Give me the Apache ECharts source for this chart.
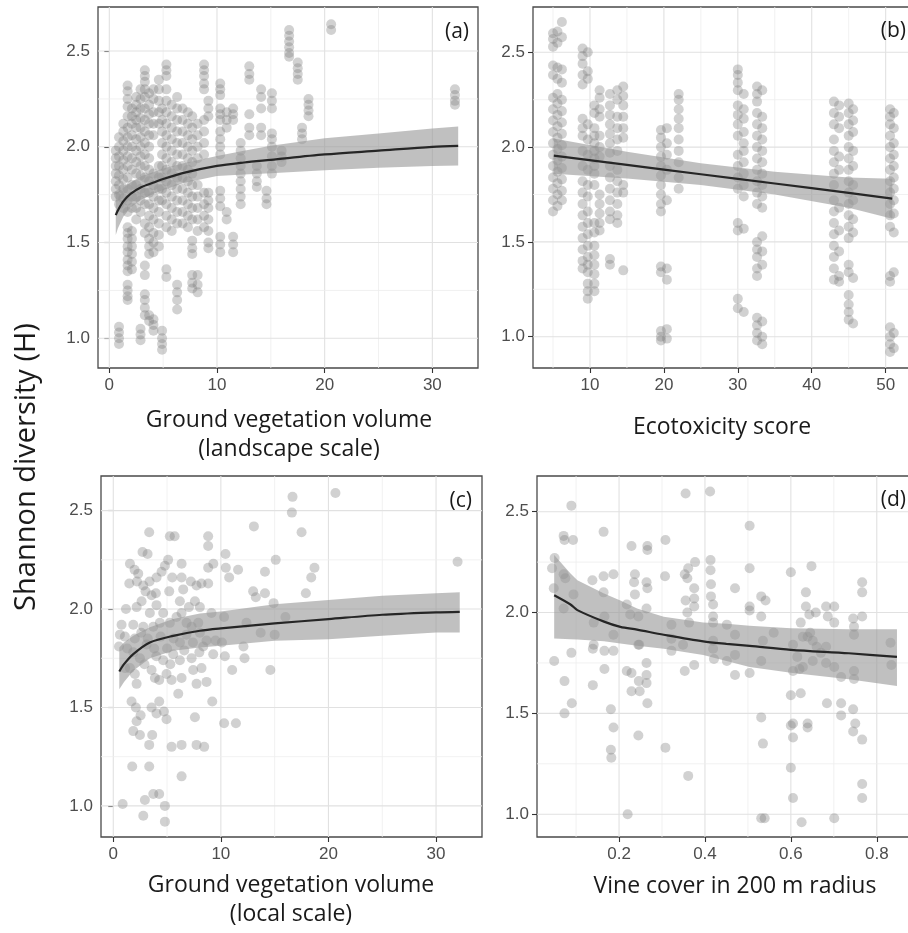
<!DOCTYPE html>
<html>
<head>
<meta charset="utf-8">
<script src="https://cdn.jsdelivr.net/npm/echarts@6/dist/echarts.min.js"></script>
<style>
  html, body { margin: 0; padding: 0; background: #ffffff; }
  #chart { width: 908px; height: 933px; }
</style>
</head>
<body>
<div id="chart"></div>
<script>
// ---------- (a) ground vegetation volume, landscape scale: columns [x, [H values]] ----------
const landscapeCols = [
  [0.6, [1.98, 1.94, 1.9, 1.86, 1.82, 1.78, 1.74]],
  [0.9, [2.05, 2.0, 1.95, 1.9, 1.85, 1.8, 1.75, 1.7, 1.06, 1.03, 1.0, 0.97]],
  [1.3, [2.12, 2.08, 2.03, 1.98, 1.93, 1.88, 1.83, 1.78, 1.73, 1.68]],
  [1.7, [2.32, 2.29, 2.25, 2.21, 2.16, 2.1, 2.05, 2.0, 1.95, 1.9, 1.84, 1.78, 1.72, 1.66, 1.58, 1.55, 1.52, 1.48, 1.45, 1.41, 1.38, 1.35, 1.28, 1.25, 1.22, 1.2]],
  [2.1, [2.2, 2.16, 2.12, 2.06, 2.0, 1.94, 1.88, 1.8, 1.74, 1.68, 1.56, 1.52, 1.48, 1.44, 1.4, 1.36]],
  [2.5, [2.26, 2.22, 2.18, 2.14, 2.1, 2.04, 1.98, 1.92, 1.86, 1.8, 1.74, 1.68, 1.62]],
  [2.9, [2.3, 2.25, 2.2, 2.15, 2.1, 2.05, 2.0, 1.95, 1.9, 1.85, 1.78, 1.72, 1.66, 1.05, 1.02, 0.99]],
  [3.3, [2.4, 2.37, 2.34, 2.3, 2.26, 2.2, 2.14, 2.08, 2.02, 1.96, 1.9, 1.84, 1.76, 1.7, 1.6, 1.55, 1.38, 1.33, 1.23, 1.2, 1.16, 1.12]],
  [3.7, [2.28, 2.22, 2.17, 2.12, 2.06, 2.0, 1.94, 1.88, 1.82, 1.76, 1.7, 1.64, 1.58, 1.52, 1.48, 1.44, 1.12, 1.09]],
  [4.1, [2.3, 2.25, 2.18, 2.12, 2.06, 1.86, 1.8, 1.74, 1.68, 1.62, 1.55, 1.5, 1.45, 1.1, 1.07, 1.04]],
  [4.6, [2.35, 2.3, 2.24, 2.18, 2.12, 1.9, 1.84, 1.78, 1.72, 1.66, 1.6, 1.54, 1.48]],
  [4.9, [2.2, 2.14, 2.08, 2.02, 1.96, 1.9, 1.84, 1.78, 1.72, 1.04, 1.0, 0.97, 0.94]],
  [5.3, [2.43, 2.4, 2.37, 2.3, 2.24, 2.18, 2.12, 2.06, 2.0, 1.94, 1.88, 1.82, 1.76, 1.7, 1.64, 1.58, 1.36, 1.32]],
  [5.8, [2.22, 2.16, 2.1, 2.04, 1.98, 1.92, 1.86, 1.8, 1.74, 1.68, 1.62, 1.56]],
  [6.3, [2.26, 2.2, 2.14, 2.08, 2.02, 1.96, 1.9, 1.84, 1.78, 1.72, 1.66, 1.6, 1.28, 1.24, 1.2, 1.15]],
  [6.8, [2.2, 2.14, 2.08, 2.02, 1.96, 1.9, 1.84, 1.78, 1.72, 1.66, 1.6]],
  [7.3, [2.18, 2.12, 2.06, 2.0, 1.94, 1.88, 1.82, 1.76, 1.7, 1.64, 1.58]],
  [7.7, [2.16, 2.1, 2.04, 1.98, 1.92, 1.86, 1.8, 1.74, 1.68, 1.62, 1.51, 1.47, 1.44, 1.33, 1.29, 1.26]],
  [8.2, [2.12, 2.06, 2.0, 1.94, 1.8, 1.74, 1.68, 1.62, 1.56, 1.33, 1.28, 1.24]],
  [8.8, [2.43, 2.4, 2.37, 2.33, 2.3, 2.14, 2.08, 2.02, 1.96, 1.76, 1.7, 1.64, 1.58]],
  [9.2, [2.24, 2.2, 2.16, 1.76, 1.72, 1.68, 1.62, 1.56, 1.5, 1.47]],
  [10.3, [2.33, 2.3, 2.27, 2.2, 2.17, 2.14, 2.08, 2.04, 2.0, 1.96, 1.77, 1.73, 1.69, 1.53, 1.49, 1.45]],
  [10.9, [2.18, 2.14, 2.1, 1.66, 1.62]],
  [11.5, [2.2, 2.17, 2.14, 1.53, 1.49, 1.45]],
  [12.2, [2.02, 1.98, 1.94, 1.9, 1.86, 1.82, 1.78, 1.74, 1.7]],
  [13.0, [2.42, 2.38, 2.35, 2.17, 2.1, 2.06]],
  [13.7, [1.9, 1.86, 1.82, 1.79]],
  [14.1, [2.3, 2.26, 2.2, 2.1, 2.06]],
  [14.6, [1.77, 1.73, 1.7]],
  [15.1, [2.28, 2.24, 2.2, 2.07, 2.04, 2.0, 1.95, 1.9, 1.86]],
  [16.0, [1.98, 1.95, 1.92]],
  [16.7, [2.61, 2.58, 2.55, 2.52, 2.49, 2.47]],
  [17.5, [2.44, 2.41, 2.38, 2.35]],
  [17.9, [2.1, 2.07, 2.04]],
  [18.5, [2.25, 2.22, 2.19, 2.16]],
  [20.6, [2.64, 2.61]],
  [32.1, [2.3, 2.27, 2.24, 2.22]]
];
const landscapeFitX = [0.6, 0.8, 1.3, 2.0, 3.0, 4.2, 5.0, 7.0, 10, 12.5, 15, 20, 25, 30, 32.4];
const landscapeFit  = [1.643, 1.668, 1.715, 1.755, 1.79, 1.815, 1.832, 1.865, 1.90, 1.918, 1.932, 1.96, 1.98, 2.0, 2.005];
const landscapeLo   = [1.54, 1.575, 1.635, 1.685, 1.725, 1.757, 1.775, 1.812, 1.848, 1.856, 1.862, 1.877, 1.89, 1.90, 1.903];
const landscapeHi   = [1.76, 1.765, 1.785, 1.815, 1.848, 1.87, 1.887, 1.915, 1.952, 1.98, 2.005, 2.045, 2.07, 2.095, 2.106];

// ---------- (b) ecotoxicity score: columns [x, [H values]] ----------
const ecotoxCols = [
  [5.0, [2.6, 2.57, 2.53, 2.43, 2.38, 2.26, 2.2, 2.14, 2.08, 2.02, 1.96, 1.9, 1.84, 1.78, 1.72, 1.66]],
  [5.6, [2.61, 2.55, 2.42, 2.36, 2.28, 2.23, 2.17, 2.11, 2.05, 1.99, 1.93, 1.87, 1.81, 1.75, 1.69]],
  [6.2, [2.66, 2.58, 2.41, 2.34, 2.25, 2.19, 2.13, 2.07, 2.01, 1.95, 1.89, 1.83, 1.77, 1.72]],
  [9.0, [2.52, 2.48, 2.44, 2.38, 2.33, 2.15, 2.1, 2.06, 1.98, 1.9, 1.82, 1.76, 1.7, 1.64, 1.58, 1.52, 1.46, 1.4, 1.36]],
  [9.7, [2.5, 2.4, 2.36, 2.12, 2.04, 1.96, 1.88, 1.8, 1.74, 1.66, 1.6, 1.54, 1.48, 1.42, 1.38, 1.34, 1.28, 1.24, 1.2]],
  [10.6, [2.22, 2.18, 2.1, 2.06, 2.02, 1.98, 1.94, 1.9, 1.86, 1.8, 1.6, 1.55, 1.48, 1.43, 1.38, 1.33, 1.28, 1.24]],
  [11.3, [2.3, 2.26, 2.2, 2.16, 2.06, 2.0, 1.95, 1.75, 1.7, 1.65, 1.6, 1.56]],
  [12.7, [2.28, 2.22, 2.17, 2.12, 2.07, 2.02, 1.97, 1.9, 1.84, 1.78, 1.72, 1.66, 1.62, 1.41, 1.38]],
  [13.7, [2.3, 2.25, 2.16, 2.1, 2.04, 1.98, 1.88, 1.82, 1.76, 1.7, 1.64, 1.6]],
  [14.5, [2.32, 2.27, 2.22, 2.16, 2.1, 2.05, 1.8, 1.76, 1.35]],
  [19.6, [2.09, 2.05, 2.0, 1.95, 1.9, 1.85, 1.8, 1.75, 1.7, 1.66, 1.37, 1.34, 1.03, 1.0, 0.98]],
  [20.4, [2.1, 2.02, 1.96, 1.88, 1.72, 1.36, 1.3, 1.04, 0.99]],
  [22.0, [2.28, 2.25, 2.2, 2.15, 2.1, 2.04, 1.98, 1.92, 1.84, 1.78]],
  [30.0, [2.41, 2.38, 2.34, 2.3, 2.22, 2.17, 2.12, 2.06, 1.96, 1.9, 1.84, 1.78, 1.6, 1.56, 1.2, 1.15]],
  [30.8, [2.28, 2.2, 2.15, 2.08, 2.02, 1.98, 1.92, 1.86, 1.8, 1.74, 1.57, 1.13]],
  [32.6, [2.32, 2.28, 2.24, 2.18, 2.12, 2.06, 2.0, 1.94, 1.88, 1.82, 1.76, 1.7, 1.5, 1.46, 1.42, 1.36, 1.32, 1.1, 1.06, 1.02, 0.98]],
  [33.3, [2.3, 2.16, 2.1, 2.04, 1.98, 1.92, 1.86, 1.8, 1.74, 1.68, 1.53, 1.45, 1.38, 1.08, 1.0, 0.96]],
  [43.0, [2.24, 2.18, 2.12, 2.04, 1.98, 1.92, 1.86, 1.8, 1.72, 1.66, 1.6, 1.54, 1.48, 1.42, 1.36, 1.3]],
  [43.7, [2.22, 2.16, 2.1, 1.95, 1.88, 1.68, 1.56, 1.45, 1.32, 1.29]],
  [45.0, [2.23, 2.18, 2.12, 2.06, 2.0, 1.94, 1.88, 1.82, 1.76, 1.7, 1.64, 1.58, 1.52, 1.38, 1.34, 1.22, 1.17, 1.13, 1.09]],
  [45.6, [2.2, 2.14, 2.08, 1.98, 1.9, 1.8, 1.72, 1.62, 1.55, 1.31, 1.07]],
  [50.6, [2.2, 2.16, 2.12, 2.06, 2.0, 1.94, 1.88, 1.82, 1.76, 1.7, 1.64, 1.58, 1.32, 1.29, 1.05, 1.0, 0.96, 0.92]],
  [51.1, [2.18, 2.1, 2.02, 1.96, 1.9, 1.84, 1.78, 1.72, 1.65, 1.55, 1.34, 1.02, 0.94]]
];
const ecotoxFitX = [5.1, 15, 25, 35, 45, 50.9];
const ecotoxFit  = [1.955, 1.906, 1.857, 1.808, 1.759, 1.728];
const ecotoxLo   = [1.86, 1.835, 1.80, 1.75, 1.68, 1.622];
const ecotoxHi   = [2.045, 1.975, 1.915, 1.87, 1.84, 1.833];

// ---------- (c) ground vegetation volume, local scale: [x, H] ----------
const localPts = [
  [0.87,1.01],[16.66,2.57],[16.6,2.49],[17.5,2.39],[20.65,2.59],[13.07,2.42],[32.0,2.24],[15.1,2.25],[14.1,2.19],
  [18.7,2.21],[18.4,2.16],[17.9,2.08],[13.0,2.09],[13.25,2.06],[14.1,2.08],[14.9,2.03],[10.43,2.28],[10.46,2.21],
  [10.77,2.16],[11.6,2.2],[8.82,2.37],[8.82,2.32],[8.82,2.21],[9.3,2.23],[8.82,2.13],[5.26,2.37],[5.7,2.37],
  [3.34,2.39],[2.72,2.29],[3.19,2.28],[1.55,2.23],[1.98,2.2],[2.32,2.18],[1.49,2.13],[2.2,2.14],[3.37,2.14],
  [2.79,2.12],[4.02,2.16],[4.49,2.19],[4.8,2.22],[5.1,2.25],[6.35,2.23],[5.48,2.16],[6.35,2.16],[7.21,2.14],
  [7.74,2.12],[8.2,2.13],[5.2,2.09],[6.5,2.1],[7.59,2.04],[8.05,2.01],[7.03,2.01],[6.19,2.04],[3.96,2.08],
  [3.56,2.07],[3.0,2.09],[2.63,2.04],[2.17,2.01],[1.18,2.0],[0.77,1.92],[1.86,1.92],[1.08,1.86],[0.53,1.81],
  [0.62,1.87],[4.02,2.02],[4.64,1.98],[3.4,1.98],[2.79,1.91],[3.72,1.91],[4.33,1.93],[5.26,1.93],[5.88,1.96],
  [6.35,1.98],[6.81,1.93],[7.28,1.91],[8.05,1.88],[8.67,1.84],[9.29,1.77],[9.13,1.98],[10.3,1.96],[10.37,1.76],
  [11.05,1.69],[12.2,1.75],[12.1,1.81],[12.38,1.93],[13.7,1.88],[15.0,1.87],[14.6,1.69],[16.0,1.96],[1.86,1.78],
  [1.55,1.7],[2.01,1.67],[2.17,1.62],[2.48,1.75],[3.1,1.82],[3.56,1.69],[3.87,1.65],[4.27,1.64],[4.95,1.67],
  [5.42,1.64],[4.64,1.74],[5.57,1.77],[6.19,1.74],[6.35,1.65],[7.28,1.75],[7.43,1.69],[7.74,1.62],[8.2,1.7],
  [8.67,1.63],[8.36,1.81],[6.04,1.57],[9.2,1.53],[1.7,1.53],[2.1,1.5],[2.17,1.43],[2.54,1.46],[1.86,1.38],
  [2.48,1.36],[3.56,1.5],[4.02,1.47],[4.27,1.53],[4.71,1.48],[4.95,1.44],[3.62,1.36],[3.34,1.31],[5.42,1.3],
  [6.35,1.31],[7.74,1.31],[8.45,1.3],[7.59,1.45],[10.3,1.42],[11.4,1.42],[1.76,1.2],[3.34,1.2],[6.35,1.15],
  [2.94,1.03],[3.72,1.06],[4.27,1.06],[4.8,1.0],[2.79,0.95],[4.8,0.92],
  [1.3,1.8],[2.0,1.85],[2.6,1.88],[3.2,1.85],[3.8,1.8],[4.4,1.86],[5.0,1.8],[5.6,1.85],[6.2,1.83],[6.8,1.87],
  [7.4,1.83],[8.0,1.78],[4.0,1.76],[5.3,1.72],[2.9,1.72],[1.1,1.7],[6.6,1.79],[7.9,1.93],[9.5,1.84],[10.1,1.83]
];
const localFitX = [0.56, 1.0, 1.86, 3.4, 5.57, 8.05, 10, 15, 20, 25, 30, 32.2];
const localFit  = [1.683, 1.72, 1.771, 1.83, 1.864, 1.89, 1.902, 1.927, 1.949, 1.971, 1.983, 1.986];
const localLo   = [1.593, 1.63, 1.686, 1.75, 1.788, 1.805, 1.813, 1.839, 1.847, 1.864, 1.881, 1.881];
const localHi   = [1.805, 1.83, 1.864, 1.907, 1.949, 1.978, 1.988, 2.025, 2.046, 2.068, 2.08, 2.085];

// ---------- (d) vine cover in 200 m radius: [x, H] ----------
const vinePts = [
  [0.049,1.76],[0.048,2.12],[0.044,2.22],[0.05,2.27],[0.071,2.38],[0.073,2.36],[0.093,2.36],[0.089,2.53],[0.071,2.19],
  [0.075,2.17],[0.094,2.09],[0.073,1.66],[0.073,1.5],[0.09,1.55],[0.089,1.8],[0.071,2.02],[0.164,2.4],[0.187,2.19],
  [0.164,2.18],[0.164,2.1],[0.138,2.16],[0.141,1.95],[0.141,1.84],[0.139,1.82],[0.139,1.64],[0.166,1.81],[0.166,1.72],
  [0.187,1.81],[0.166,1.98],[0.187,1.89],[0.181,1.52],[0.187,1.43],[0.181,1.32],[0.182,1.28],[0.229,2.33],[0.237,2.19],
  [0.235,2.15],[0.237,2.09],[0.218,2.04],[0.226,1.99],[0.245,1.98],[0.218,1.71],[0.229,1.7],[0.229,1.61],[0.246,1.66],
  [0.248,1.61],[0.264,1.75],[0.264,1.69],[0.264,1.65],[0.266,1.55],[0.266,2.33],[0.266,2.31],[0.264,2.15],[0.266,2.12],
  [0.264,2.02],[0.245,1.39],[0.22,1.0],[0.245,1.84],[0.247,1.84],[0.308,2.36],[0.307,2.18],[0.308,1.33],[0.322,1.94],
  [0.322,1.87],[0.322,1.81],[0.355,2.59],[0.412,2.6],[0.353,2.19],[0.361,2.22],[0.377,2.25],[0.359,2.17],[0.375,2.12],
  [0.375,2.07],[0.375,2.03],[0.355,2.06],[0.359,2.0],[0.363,1.95],[0.349,1.84],[0.353,1.71],[0.375,1.74],[0.361,1.19],
  [0.413,2.26],[0.413,2.21],[0.414,2.14],[0.414,2.08],[0.419,2.04],[0.419,1.98],[0.419,1.95],[0.419,1.86],[0.419,1.82],
  [0.421,1.77],[0.451,1.94],[0.47,2.12],[0.47,1.89],[0.47,1.79],[0.451,1.76],[0.47,1.69],[0.504,2.43],[0.504,2.22],
  [0.504,2.03],[0.504,2.01],[0.504,1.7],[0.531,2.08],[0.541,2.06],[0.531,1.98],[0.535,1.86],[0.531,1.76],[0.531,1.48],
  [0.535,1.35],[0.531,0.98],[0.539,0.98],[0.6,2.2],[0.648,2.23],[0.635,2.1],[0.635,2.03],[0.623,1.95],[0.643,1.99],
  [0.658,2.0],[0.605,1.84],[0.628,1.88],[0.639,1.88],[0.605,1.71],[0.628,1.73],[0.651,1.76],[0.651,1.86],[0.682,2.03],
  [0.701,2.03],[0.686,1.98],[0.701,1.95],[0.682,1.83],[0.682,1.75],[0.701,1.73],[0.717,1.68],[0.745,1.97],[0.747,1.93],
  [0.766,2.15],[0.766,2.1],[0.766,1.98],[0.747,1.89],[0.747,1.71],[0.747,1.67],[0.832,1.85],[0.834,1.74],[0.6,1.59],
  [0.623,1.6],[0.6,1.44],[0.605,1.45],[0.605,1.38],[0.639,1.45],[0.639,1.43],[0.684,1.55],[0.717,1.55],[0.717,1.49],
  [0.745,1.52],[0.75,1.45],[0.745,1.41],[0.766,1.37],[0.6,1.23],[0.605,1.08],[0.766,1.15],[0.766,1.08],[0.625,0.96],
  [0.701,0.98],[0.615,1.78],[0.66,1.83],[0.67,1.8],[0.645,1.9],[0.62,1.72],[0.56,1.9]
];
const vineFitX = [0.049, 0.087, 0.103, 0.165, 0.203, 0.242, 0.304, 0.396, 0.45, 0.504, 0.6, 0.735, 0.847];
const vineFit  = [2.086, 2.04, 2.012, 1.955, 1.929, 1.915, 1.89, 1.857, 1.845, 1.835, 1.815, 1.798, 1.78];
const vineLo   = [1.871, 1.868, 1.866, 1.857, 1.846, 1.835, 1.821, 1.789, 1.76, 1.73, 1.702, 1.669, 1.636];
const vineHi   = [2.285, 2.193, 2.16, 2.094, 2.06, 2.02, 1.979, 1.95, 1.945, 1.934, 1.922, 1.917, 1.917];

// ---------- axis ticks ----------
const yTicks = [1.0, 1.5, 2.0, 2.5];
const yMinor = [1.25, 1.75, 2.25];
const landscapeTicks = [0, 10, 20, 30];
const landscapeMinor = [5, 15, 25];
const ecotoxTicks = [10, 20, 30, 40, 50];
const ecotoxMinor = [5, 15, 25, 35, 45];
const localTicks = [0, 10, 20, 30];
const localMinor = [5, 15, 25];
const vineTicks = [0.2, 0.4, 0.6, 0.8];
const vineMinor = [0.1, 0.3, 0.5, 0.7];

// ---------- panel layout ----------
const panels = [
  { grid: { left: 98, top: 7, width: 380, height: 361 }, x: [-1.05, 34.24], y: [0.845, 2.73],
    xTicks: landscapeTicks, xMinor: landscapeMinor, pts: landscapeCols.flatMap(([x, ys]) => ys.map(y => [x, y])),
    fitX: landscapeFitX, fit: landscapeFit, lo: landscapeLo, hi: landscapeHi, xFmt: v => String(v) },
  { grid: { left: 533, top: 7, width: 380, height: 361 }, x: [2.29, 53.7], y: [0.835, 2.739],
    xTicks: ecotoxTicks, xMinor: ecotoxMinor, pts: ecotoxCols.flatMap(([x, ys]) => ys.map(y => [x, y])),
    fitX: ecotoxFitX, fit: ecotoxFit, lo: ecotoxLo, hi: ecotoxHi, xFmt: v => String(v) },
  { grid: { left: 101, top: 476, width: 381, height: 361 }, x: [-1.14, 34.27], y: [0.842, 2.676],
    xTicks: localTicks, xMinor: localMinor, pts: localPts,
    fitX: localFitX, fit: localFit, lo: localLo, hi: localHi, xFmt: v => String(v) },
  { grid: { left: 537, top: 476, width: 378, height: 361 }, x: [0.009, 0.889], y: [0.887, 2.677],
    xTicks: vineTicks, xMinor: vineMinor, pts: vinePts,
    fitX: vineFitX, fit: vineFit, lo: vineLo, hi: vineHi, xFmt: v => v.toFixed(1) }
];

const tickFont = { fontFamily: '"Liberation Sans", Arial, sans-serif', fontSize: 17, color: '#4d4d4d' };
const grids = [], xAxes = [], yAxes = [], series = [];

panels.forEach((p, i) => {
  grids.push(Object.assign({
    show: true, backgroundColor: '#ffffff', borderColor: '#4a4a4a', borderWidth: 1.3,
    outerBoundsMode: 'none', containLabel: false
  }, p.grid));

  xAxes.push({
    type: 'value', gridIndex: i, min: p.x[0], max: p.x[1],
    axisLine: { show: false },
    axisTick: { show: true, customValues: p.xTicks, length: 5, lineStyle: { color: '#333333', width: 1.1 } },
    axisLabel: Object.assign({ customValues: p.xTicks, margin: 9, formatter: p.xFmt }, tickFont),
    splitLine: { show: false }
  });
  yAxes.push({
    type: 'value', gridIndex: i, min: p.y[0], max: p.y[1],
    axisLine: { show: false },
    axisTick: { show: true, customValues: yTicks, length: 5, lineStyle: { color: '#333333', width: 1.1 } },
    axisLabel: Object.assign({ customValues: yTicks, margin: 8, formatter: v => v.toFixed(1) }, tickFont),
    splitLine: { show: false }
  });

  // background grid lines: kind 0 = major x, 1 = minor x, 2 = major y, 3 = minor y
  const gridData = [];
  p.xTicks.forEach(v => gridData.push([v, 0]));
  p.xMinor.forEach(v => gridData.push([v, 1]));
  yTicks.forEach(v => gridData.push([v, 2]));
  yMinor.forEach(v => gridData.push([v, 3]));
  series.push({
    type: 'custom', xAxisIndex: i, yAxisIndex: i, silent: true, z: 1,
    data: gridData,
    encode: { x: -1, y: -1 },
    renderItem: (params, api) => {
      const cs = params.coordSys;
      const v = api.value(0), kind = api.value(1);
      const major = kind === 0 || kind === 2;
      const stroke = major ? '#e1e1e1' : '#eeeeee';
      const lw = major ? 1.1 : 0.8;
      if (kind < 2) {
        const px = api.coord([v, p.y[0]])[0];
        return { type: 'line', shape: { x1: px, y1: cs.y, x2: px, y2: cs.y + cs.height },
                 style: { stroke: stroke, lineWidth: lw } };
      }
      const py = api.coord([p.x[0], v])[1];
      return { type: 'line', shape: { x1: cs.x, y1: py, x2: cs.x + cs.width, y2: py },
               style: { stroke: stroke, lineWidth: lw } };
    }
  });

  // observations
  series.push({
    type: 'scatter', xAxisIndex: i, yAxisIndex: i, z: 2, silent: true,
    symbol: 'circle', symbolSize: 10,
    itemStyle: { color: 'rgba(128,128,128,0.45)' },
    data: p.pts
  });

  // confidence band
  series.push({
    type: 'custom', xAxisIndex: i, yAxisIndex: i, z: 3, silent: true,
    data: [[p.fitX[0], p.fit[0]]],
    renderItem: (params, api) => {
      const upper = p.fitX.map((x, k) => api.coord([x, p.hi[k]]));
      const lower = p.fitX.map((x, k) => api.coord([x, p.lo[k]])).reverse();
      return { type: 'polygon', shape: { points: upper.concat(lower) },
               style: { fill: 'rgba(150,150,150,0.6)' } };
    }
  });

  // fitted curve
  series.push({
    type: 'line', xAxisIndex: i, yAxisIndex: i, z: 4, silent: true,
    showSymbol: false, smooth: 0.3,
    lineStyle: { color: '#262626', width: 2.2 },
    data: p.fitX.map((x, k) => [x, p.fit[k]])
  });
});

const titleFont = '"Open Sans", "Noto Sans", sans-serif';
const textEl = (x, y, text, size, align, extra) => Object.assign({
  type: 'text', x: x, y: y, silent: true, z: 10,
  style: { text: text, fontFamily: titleFont, fontSize: size, fill: '#1a1a1a',
           align: align, verticalAlign: 'middle', lineHeight: Math.round(size * 1.25) }
}, extra || {});

const option = {
  animation: false,
  backgroundColor: '#ffffff',
  grid: grids,
  xAxis: xAxes,
  yAxis: yAxes,
  series: series,
  graphic: [
    textEl(27, 467, 'Shannon diversity (H)', 29, 'center', { rotation: Math.PI / 2 }),
    textEl(289, 435, 'Ground vegetation volume\n(landscape scale)', 23, 'center'),
    textEl(722, 427, 'Ecotoxicity score', 23, 'center'),
    textEl(291, 900, 'Ground vegetation volume\n(local scale)', 23, 'center'),
    textEl(735, 886, 'Vine cover in 200 m radius', 23, 'center'),
    textEl(469, 32, '(a)', 21, 'right'),
    textEl(906, 31, '(b)', 21, 'right'),
    textEl(472, 501, '(c)', 21, 'right'),
    textEl(906, 500, '(d)', 21, 'right')
  ]
};

const chart = echarts.init(document.getElementById('chart'), null, { renderer: 'canvas' });
chart.setOption(option);
</script>
</body>
</html>
